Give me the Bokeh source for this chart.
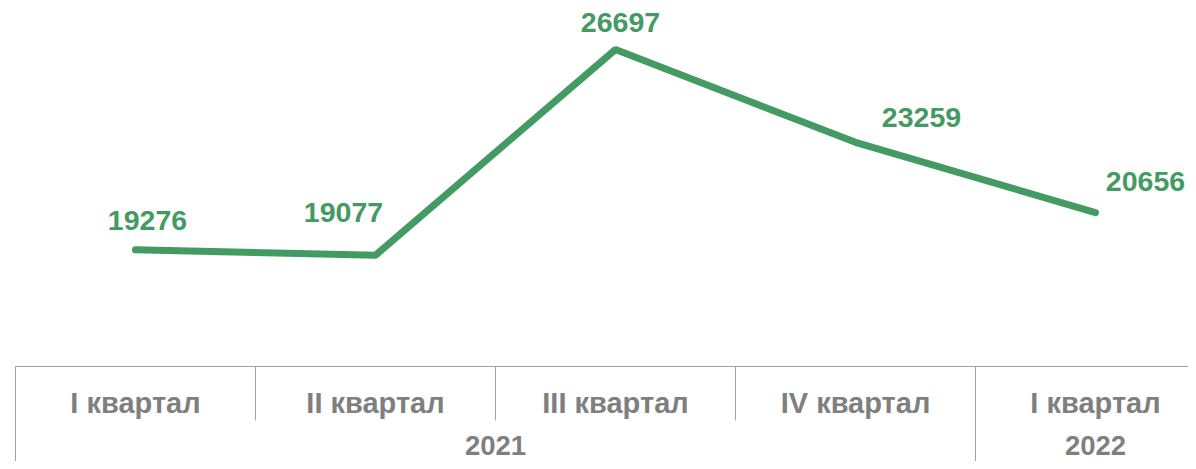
from bokeh.plotting import figure
from bokeh.models import ColumnDataSource, Range1d
from bokeh.core.properties import value
from bokeh.embed import file_html
from bokeh.resources import INLINE

# ---- data ----
quarters = ["I квартал", "II квартал", "III квартал", "IV квартал", "I квартал"]
years = ["2021", "2022"]
year_span = [4, 1]
values = [19276, 19077, 26697, 23259, 20656]

# ---- style ----
GREEN = "#449A63"
GREY_TXT = "#7F7F7F"
GREY_LN = "#A3A3A3"
FONT = value("Liberation Sans")
label_dx = [12, -32, 5, 66, 50]
label_dy = [-29, -43, -27, -25, -31]

W, H = 1188, 461
p = figure(width=W, height=H, output_backend="svg", toolbar_location=None,
           x_axis_location=None, y_axis_location=None,
           x_range=Range1d(-0.5625, 4.3875), y_range=Range1d(11438, 28512),
           min_border=0, outline_line_color=None, background_fill_color="white",
           border_fill_color="white")
p.xgrid.visible = False
p.ygrid.visible = False
p.extra_y_ranges = {"tab": Range1d(start=H, end=0)}

xs = list(range(len(values)))
src = ColumnDataSource(dict(x=xs, y=values, lab=[str(v) for v in values],
                            dx=label_dx, dy=label_dy))
p.line("x", "y", source=src, line_color=GREEN, line_width=7, line_cap="round")
p.text("x", "y", text="lab", source=src, x_offset="dx", y_offset="dy",
       text_align="center", text_baseline="middle", text_color=GREEN,
       text_font=FONT, text_font_style="bold", text_font_size="28.5px")

# ---- category table below ----
n = len(quarters)
top_y, q_y, inner_end, yr_y = 366, 402, 420, 445
p.segment(x0=[-0.5], y0=[top_y], x1=[n - 0.5], y1=[top_y],
          y_range_name="tab", line_color=GREY_LN, line_width=1)
year_bounds = [-0.5]
for s in year_span:
    year_bounds.append(year_bounds[-1] + s)
inner = [i - 0.5 for i in range(n + 1) if (i - 0.5) not in year_bounds]
p.segment(x0=year_bounds, y0=[top_y] * len(year_bounds), x1=year_bounds,
          y1=[H] * len(year_bounds), y_range_name="tab",
          line_color=GREY_LN, line_width=1)
p.segment(x0=inner, y0=[top_y] * len(inner), x1=inner, y1=[inner_end] * len(inner),
          y_range_name="tab", line_color=GREY_LN, line_width=1)

p.text(x=xs, y=[q_y] * n, text=quarters, y_range_name="tab",
       text_align="center", text_baseline="middle", text_color=GREY_TXT,
       text_font=FONT, text_font_style="bold", text_font_size="29px")
yr_x = [(year_bounds[i] + year_bounds[i + 1]) / 2 for i in range(len(years))]
p.text(x=yr_x, y=[yr_y] * len(years), text=years, y_range_name="tab",
       text_align="center", text_baseline="middle", text_color=GREY_TXT,
       text_font=FONT, text_font_style="bold", text_font_size="27.5px")

open("out.html", "w").write(file_html(p, INLINE))
